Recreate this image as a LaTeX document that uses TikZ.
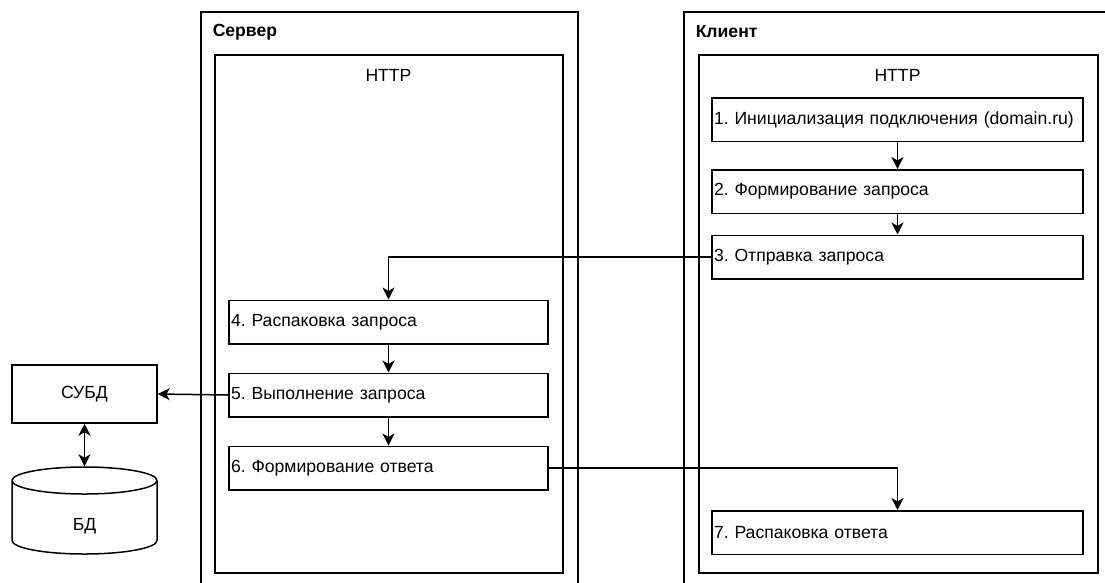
\documentclass[tikz,border=0pt]{standalone}
\usepackage{fontspec}
\setmainfont{Liberation Sans}
\usetikzlibrary{arrows.meta}
\begin{document}
\frenchspacing
\begin{tikzpicture}[x=1pt,y=-1pt, line width=1.5pt,
  font=\fontsize{17.6}{20}\selectfont,
  box/.style={draw, rectangle, inner sep=0pt},
  stepbox/.style={draw, rectangle, inner xsep=2pt, inner ysep=0pt, minimum height=43.5pt, align=left},
  srvstep/.style={stepbox, text width=315pt},
  clstep/.style={stepbox, text width=367pt},
  tip/.tip={Stealth[length=12pt,width=12pt,inset=3.5pt]},
  arr/.style={-tip},
  dblarr/.style={tip-tip},
]
\path[use as bounding box, clip] (0,0) rectangle (1105,582);
% containers
\node[box, minimum width=377pt, minimum height=600pt, anchor=north west] (srv) at (200,11) {};
\node[box, minimum width=348pt, minimum height=518pt, anchor=north west] (srvhttp) at (214,54) {};
\node[box, minimum width=440pt, minimum height=600pt, anchor=north west] (cl) at (683,11) {};
\node[box, minimum width=399pt, minimum height=518pt, anchor=north west] (clhttp) at (698,54) {};
\node[anchor=west, inner sep=0pt, font=\fontsize{17.6}{20}\selectfont\bfseries] (srvlabel) at (212,32) {Сервер};
\node[anchor=west, inner sep=0pt, font=\fontsize{17.6}{20}\selectfont\bfseries] (cllabel) at (695,32) {Клиент};
\node[inner sep=0pt] (srvhttplabel) at (388.5,75) {HTTP};
\node[inner sep=0pt] (clhttplabel) at (897.5,75) {HTTP};
% client steps
\node[clstep] (b1) at (897.5,119.5) {1. Инициализация подключения (domain.ru)};
\node[clstep] (b2) at (897.5,191.5) {2. Формирование запроса};
\node[clstep] (b3) at (897.5,257) {3. Отправка запроса};
\node[clstep] (b7) at (897.5,532.5) {7. Распаковка ответа};
% server steps
\node[srvstep] (b4) at (388.5,322) {4. Распаковка запроса};
\node[srvstep] (b5) at (388.5,395) {5. Выполнение запроса};
\node[srvstep] (b6) at (388.5,468) {6. Формирование ответа};
% DBMS and DB
\node[box, minimum width=145pt, minimum height=58pt] (subd) at (84.5,394) {СУБД};
\node[rectangle, inner sep=0pt, minimum width=145pt, minimum height=87pt] (bd) at (84.5,510.5) {};
\draw (12,480.5) arc[start angle=180, end angle=-180, x radius=72.5pt, y radius=13.5pt];
\draw (12,480.5) -- (12,540.5) arc[start angle=180, end angle=360, x radius=72.5pt, y radius=13.5pt] -- (157,480.5);
\node[inner sep=0pt] (bdlabel) at (84.5,526) {БД};
% connectors
\draw[arr] (b1.south) -- (b2.north);
\draw[arr] (b2.south) -- (b3.north);
\draw[arr] (b3.west) -| (b4.north);
\draw[arr] (b4.south) -- (b5.north);
\draw[arr] (b5.south) -- (b6.north);
\draw[arr] (b5.west) -- (subd.east);
\draw[dblarr] (subd.south) -- (bd.north);
\draw[arr] (b6.east) -| (b7.north);
\end{tikzpicture}
\end{document}
